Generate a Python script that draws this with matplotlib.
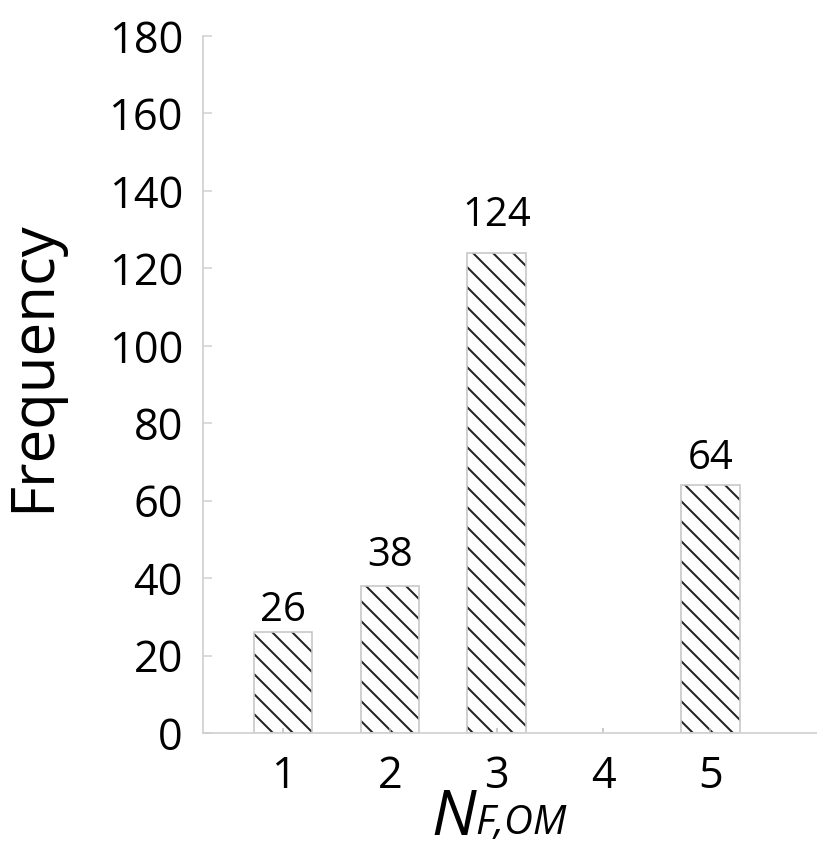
import matplotlib
matplotlib.use("Agg")
import matplotlib.pyplot as plt

# data
categories = [1, 2, 3, 4, 5]
counts = [26, 38, 124, 0, 64]
yticks = [0, 20, 40, 60, 80, 100, 120, 140, 160, 180]

# label gap above each bar (points), as placed in the original
label_gap = [7, 12, 16, 0, 10]

plt.rcParams['font.family'] = ['Open Sans', 'DejaVu Sans']
plt.rcParams['hatch.linewidth'] = 1.2

dpi = 120
fig = plt.figure(figsize=(817 / dpi, 846 / dpi), dpi=dpi)
ax = fig.add_axes([203 / 817, 113 / 846, 614 / 817, 697 / 846])

xs = [c for c, v in zip(categories, counts) if v > 0]
vs = [v for v in counts if v > 0]
gaps = [g for g, v in zip(label_gap, counts) if v > 0]

# hatch in dark, outline in light grey
ax.bar(xs, vs, width=0.55, color='white', edgecolor='#222222',
       linewidth=0, hatch='\\\\')
ax.bar(xs, vs, width=0.55, fill=False, edgecolor='#c8c8c8', linewidth=1.0)
for x, v, g in zip(xs, vs, gaps):
    ax.annotate(str(v), (x, v), xytext=(0, g), textcoords='offset points',
                ha='center', va='baseline', fontsize=24)

ax.set_xlim(0.25, 6.0)
ax.set_ylim(0, 180)
ax.set_xticks(categories)
ax.set_yticks(yticks)

for s in ['top', 'right']:
    ax.spines[s].set_visible(False)
for s in ['left', 'bottom']:
    ax.spines[s].set_color('#d0d0d0')
    ax.spines[s].set_linewidth(1.0)

ax.tick_params(axis='y', direction='in', length=5.4, width=0.9,
               color='#d0d0d0', labelsize=26, pad=12)
ax.tick_params(axis='x', direction='in', length=3, width=0.9,
               color='#bbbbbb', labelsize=26, pad=13)

fig.text(33 / 817, 1 - 366 / 846, 'Frequency', rotation=90,
         ha='center', va='center', fontsize=36)
fig.text(431 / 817, 11 / 846, 'N', style='italic', fontsize=38,
         ha='left', va='baseline')
fig.text(475 / 817, 12 / 846, 'F,OM', style='italic', fontsize=24,
         ha='left', va='baseline')

fig.savefig('out.png', dpi=dpi)
